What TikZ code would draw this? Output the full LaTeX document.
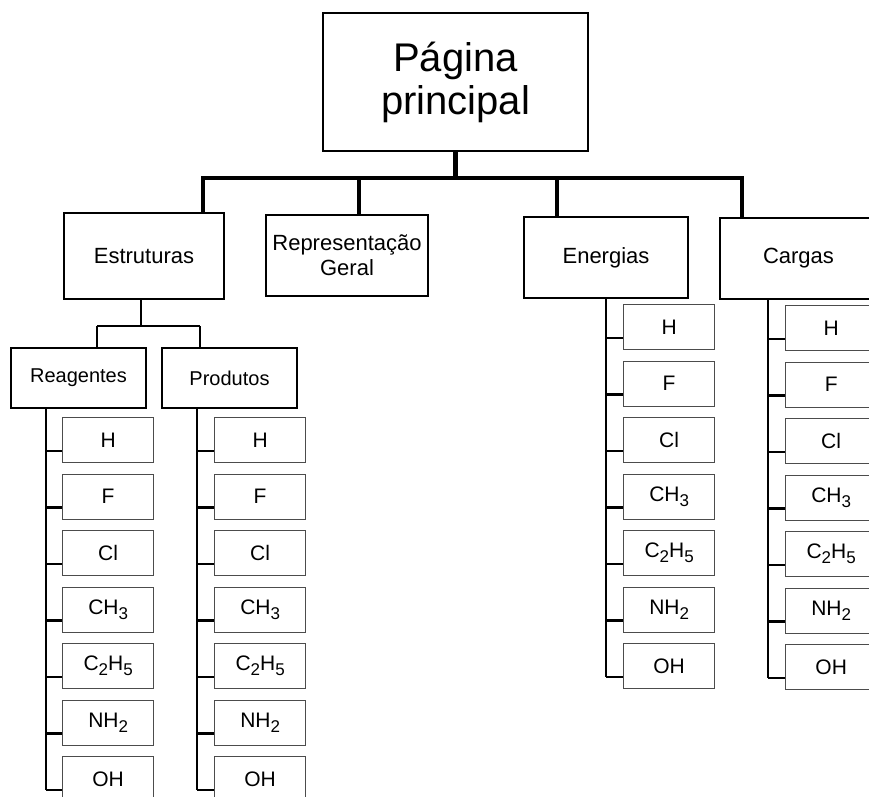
\documentclass[tikz,border=0pt]{standalone}
\usepackage{fontspec}
\setmainfont{Liberation Sans}
\newcommand{\chsub}[1]{\raisebox{-5pt}{\fontsize{17}{17}\selectfont #1}}
\tikzset{
  mainbox/.style={draw=black, line width=2pt, fill=white, inner sep=0pt, align=center, anchor=north west},
  itembox/.style={draw=black!70, line width=1.3pt, fill=white, inner sep=0pt, anchor=north west,
    minimum width=91pt, minimum height=45pt, font=\fontsize{21}{25}\selectfont},
  barline/.style={line width=4.5pt, line cap=rect},
  conn/.style={line width=2.6pt},
  spine/.style={line width=2.2pt}
}
\begin{document}
\begin{tikzpicture}[x=1pt,y=-1pt]
\useasboundingbox (0,0) rectangle (869,796);
\clip (0,0) rectangle (869,796);
% main boxes
\node[mainbox, minimum width=265pt, minimum height=138pt, font=\fontsize{40}{43}\selectfont] (top) at (322,12) {Página\\principal};
\node[mainbox, minimum width=160pt, minimum height=86pt, font=\fontsize{22}{25}\selectfont] (estr) at (63,212) {Estruturas};
\node[mainbox, minimum width=162pt, minimum height=81pt, font=\fontsize{22}{25}\selectfont] (rep) at (265,214) {Representação\\Geral};
\node[mainbox, minimum width=164pt, minimum height=81pt, font=\fontsize{22}{25}\selectfont] (ener) at (523,216) {\raisebox{-3pt}{Energias}};
\node[mainbox, minimum width=157pt, minimum height=81pt, font=\fontsize{22}{25}\selectfont] (carg) at (719,217) {Cargas};
\node[mainbox, minimum width=135pt, minimum height=60pt, font=\fontsize{20}{23}\selectfont] (reag) at (10,347) {Reagentes};
\node[mainbox, minimum width=135pt, minimum height=60pt, font=\fontsize{20}{23}\selectfont] (prod) at (161,347) {Produtos};
% top connectors
\coordinate (bar) at (454.5,178);
\coordinate (d1) at (203,178);
\coordinate (d2) at (359,178);
\coordinate (d3) at (557,178);
\coordinate (d4) at (742,178);
\draw[barline] (top.south) -- (top.south |- bar);
\draw[barline] (d1) -- (d4);
\draw[barline] (d1) -- (d1 |- estr.north);
\draw[barline] (d2) -- (d2 |- rep.north);
\draw[barline] (d3) -- (d3 |- ener.north);
\draw[barline] (d4) -- (d4 |- carg.north);
% Estruturas sub connectors
\coordinate (ej) at (141,326);
\coordinate (rj) at (97,326);
\coordinate (pj) at (200,326);
\draw[conn] (ej |- estr.south) -- (ej);
\draw[conn] (rj) -- (pj);
\draw[conn] (rj) -- (rj |- reag.north);
\draw[conn] (pj) -- (pj |- prod.north);
% spines
\coordinate (rsp) at (46,407);
\coordinate (psp) at (197,407);
\coordinate (esp) at (606,297);
\coordinate (csp) at (768,298);
% items
\foreach \t [count=\i from 0] in {{H},{F},{Cl},{CH\chsub{3}},{C\chsub{2}H\chsub{5}},{NH\chsub{2}},{OH}}{
  \node[itembox] (re\i) at (62,417+56.5*\i) {\t};
  \node[itembox] (pr\i) at (214,417+56.5*\i) {\t};
  \node[itembox] (en\i) at (623,304+56.5*\i) {\t};
  \node[itembox] (ca\i) at (785,305+56.5*\i) {\t};
  \coordinate (rb\i) at ([yshift=-34pt]re\i.north west);
  \coordinate (pb\i) at ([yshift=-34pt]pr\i.north west);
  \coordinate (eb\i) at ([yshift=-34pt]en\i.north west);
  \coordinate (cb\i) at ([yshift=-34pt]ca\i.north west);
  \draw[spine] (rsp |- rb\i) -- (rb\i);
  \draw[spine] (psp |- pb\i) -- (pb\i);
  \draw[spine] (esp |- eb\i) -- (eb\i);
  \draw[spine] (csp |- cb\i) -- (cb\i);
}
\draw[spine] (rsp) -- (rsp |- rb6);
\draw[spine] (psp) -- (psp |- pb6);
\draw[spine] (esp) -- (esp |- eb6);
\draw[spine] (csp) -- (csp |- cb6);
\end{tikzpicture}
\end{document}
